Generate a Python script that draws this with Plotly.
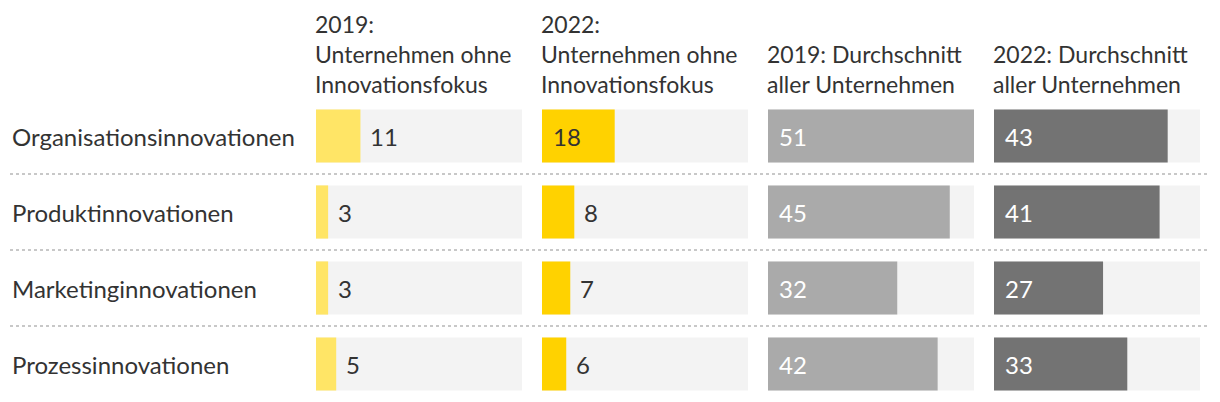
import plotly.graph_objects as go

categories = ["Organisationsinnovationen", "Produktinnovationen", "Marketinginnovationen", "Prozessinnovationen"]
headers = ["2019:<br>Unternehmen ohne<br>Innovationsfokus",
           "2022:<br>Unternehmen ohne<br>Innovationsfokus",
           "2019: Durchschnitt<br>aller Unternehmen",
           "2022: Durchschnitt<br>aller Unternehmen"]
v2019_ohne = [11, 3, 3, 5]
v2022_ohne = [18, 8, 7, 6]
v2019_avg = [51, 45, 32, 42]
v2022_avg = [43, 41, 27, 33]

series = [v2019_ohne, v2022_ohne, v2019_avg, v2022_avg]
colors = ["#ffe566", "#ffd200", "#aaaaaa", "#737373"]
inside_text_colors = ["#333333", "#333333", "#ffffff", "#ffffff"]
XMAX = 51
OFF = 8  # default page body margin
W = 1220 - OFF
H = 402 - OFF
col_left = [316 - OFF, 542 - OFF, 768 - OFF, 994 - OFF]
col_w = 206
FONT = "Lato, 'Noto Sans', sans-serif"
TXT = "#333333"
FS = 24
HFS = 23

fig = go.Figure()
layout = dict(
    width=W, height=H,
    margin=dict(l=0, r=0, t=98 - OFF, b=0),
    paper_bgcolor="white", plot_bgcolor="white",
    barmode="overlay", showlegend=False,
    font=dict(family=FONT, size=FS, color=TXT),
)
annotations = []
shapes = []
for i, vals in enumerate(series):
    xa = "x" if i == 0 else f"x{i+1}"
    axname = "xaxis" if i == 0 else f"xaxis{i+1}"
    layout[axname] = dict(domain=[col_left[i] / W, (col_left[i] + col_w) / W],
                          range=[0, XMAX], visible=False, fixedrange=True)
    fig.add_trace(go.Bar(y=categories, x=[XMAX] * len(categories), orientation="h",
                         marker=dict(color="#f3f3f3", line=dict(width=0)), width=0.7,
                         xaxis=xa, yaxis="y", hoverinfo="skip"))
    fig.add_trace(go.Bar(y=categories, x=vals, orientation="h",
                         marker=dict(color=colors[i], line=dict(width=0)), width=0.7,
                         xaxis=xa, yaxis="y"))
    for c, v in zip(categories, vals):
        inside = v >= 15
        annotations.append(dict(
            x=0 if inside else v, y=c, xref=xa, yref="y",
            text=str(v), showarrow=False, xanchor="left", yanchor="middle",
            xshift=9 if inside else 8,
            font=dict(size=FS, color=inside_text_colors[i] if inside else TXT)))
    annotations.append(dict(
        x=col_left[i] / W, y=1, xref="paper", yref="paper", text=headers[i],
        showarrow=False, xanchor="left", yanchor="bottom", align="left", yshift=-2,
        xshift=-3, font=dict(size=HFS, color=TXT)))

layout["yaxis"] = dict(range=[3.5, -0.5], visible=False, fixedrange=True,
                       categoryorder="array", categoryarray=categories)

for c in categories:
    annotations.append(dict(x=(12 - OFF) / W, y=c, xref="paper", yref="y", text=c,
                            showarrow=False, xanchor="left", yanchor="middle", xshift=-2,
                            font=dict(size=FS, color=TXT)))
for k in range(len(categories) - 1):
    shapes.append(dict(type="line", xref="paper", yref="y", x0=(10 - OFF) / W, x1=(1210 - OFF) / W,
                       y0=k + 0.5, y1=k + 0.5,
                       line=dict(color="#c8c8c8", width=2, dash="dot")))

layout["annotations"] = annotations
layout["shapes"] = shapes
fig.update_layout(**layout)
fig.write_html("out.html")
